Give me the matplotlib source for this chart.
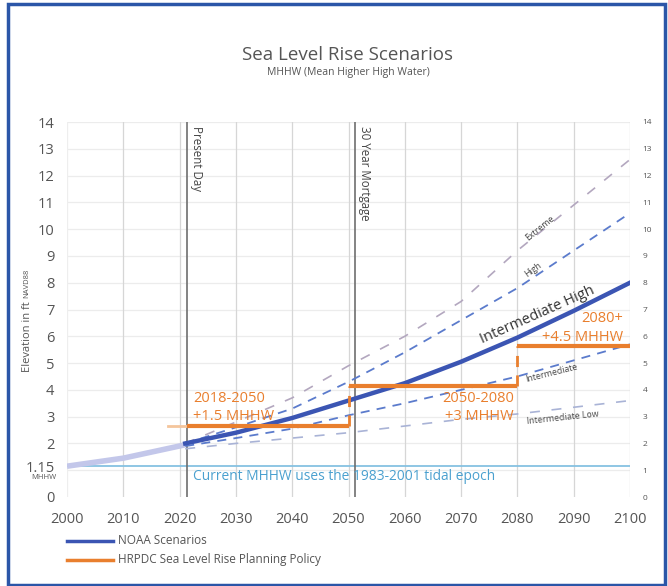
import matplotlib
matplotlib.use("Agg")
import matplotlib.pyplot as plt
from matplotlib.patches import Rectangle

plt.rcParams['font.family'] = ['Open Sans', 'DejaVu Sans']

# NOAA scenario curves (ft NAVD88)
years = [2021, 2030, 2040, 2050, 2060, 2070, 2080, 2090, 2100]
extreme = [2.0, 2.8, 3.7, 4.9, 6.0, 7.3, 9.2, 10.9, 12.6]
high = [2.0, 2.6, 3.3, 4.3, 5.4, 6.6, 7.8, 9.2, 10.6]
int_high = [2.0, 2.4, 2.95, 3.6, 4.25, 5.05, 5.95, 6.95, 8.0]
intermediate = [1.9, 2.2, 2.55, 3.05, 3.5, 4.0, 4.5, 5.1, 5.7]
int_low = [1.8, 2.0, 2.2, 2.4, 2.65, 2.9, 3.1, 3.35, 3.6]

hist_years = [2000, 2010, 2021]
hist_vals = [1.15, 1.45, 1.95]

mhhw = 1.15
present_day = 2021.3
mortgage = 2051.2

# HRPDC planning policy steps
policy_start = [2018, 2050, 2080]
policy_end = [2050, 2080, 2100]
policy_add = [1.5, 3.0, 4.5]

xticks = list(range(2000, 2101, 10))
left_ticks = [0, 1.15] + list(range(2, 15))
left_labels = ['0', '1.15'] + [str(v) for v in range(2, 15)]
right_ticks = list(range(0, 15))

W, H = 668, 586
fig = plt.figure(figsize=(W / 100, H / 100), dpi=100)
fig.patch.set_facecolor('white')
ax = fig.add_axes([67 / W, 1 - 497 / H, (630 - 67) / W, (497 - 122) / H])

# outer frame
fig.patches.append(Rectangle((8 / W, 1 - 585 / H), (665 - 8) / W, (585 - 4) / H,
                             transform=fig.transFigure, fill=False,
                             edgecolor='#2b56a8', linewidth=2.5))

ax.set_xlim(2000, 2100)
ax.set_ylim(0, 14)
for s in ax.spines.values():
    s.set_visible(False)

# grid
for v in range(1, 15):
    ax.axhline(v, color='#ececec', lw=0.9, zorder=0)
for x in xticks:
    ax.axvline(x, color='#d6d6d6' if x > 2000 else '#eeeeee', lw=0.9, zorder=0)

# current MHHW
ax.axhline(mhhw, color='#86c2e2', lw=1.3, zorder=1)
ax.text(2022.3, 0.75, 'Current MHHW uses the 1983-2001 tidal epoch',
        color='#4aa0cf', fontsize=9.9, va='center', ha='left')

# reference verticals
ax.axvline(present_day, color='#6e6e6e', lw=1.2, zorder=2)
ax.axvline(mortgage, color='#6e6e6e', lw=1.2, zorder=2)
ax.text(present_day + 0.5, 13.85, 'Present Day', rotation=-90, fontsize=8.3,
        color='#444444', ha='left', va='top')
ax.text(mortgage + 0.5, 13.85, '30 Year Mortgage', rotation=-90, fontsize=8.3,
        color='#444444', ha='left', va='top')

# history and scenarios
ax.plot(hist_years, hist_vals, color='#c3c7ea', lw=4, solid_capstyle='butt', zorder=3)
ax.plot(years, extreme, color='#b3a7bf', lw=1.2, dashes=(6, 7), zorder=3)
ax.plot(years, high, color='#5b7bcc', lw=1.3, dashes=(5, 4), zorder=3)
ax.plot(years, intermediate, color='#5b7bcc', lw=1.3, dashes=(5, 4), zorder=3)
ax.plot(years, int_low, color='#a9b3d6', lw=1.2, dashes=(6, 7), zorder=3)
ax.plot(years, int_high, color='#3b55b3', lw=3.2, zorder=4)

# policy steps
orange = '#e97f2e'
ax.plot([2018, present_day], [mhhw + policy_add[0]] * 2, color='#f4c59c', lw=2, zorder=5)
for i in range(len(policy_start)):
    x0 = max(policy_start[i], present_day)
    y = mhhw + policy_add[i]
    ax.plot([x0, policy_end[i]], [y, y], color=orange, lw=3, zorder=5,
            solid_capstyle='butt')
    if i > 0:
        ax.plot([policy_start[i]] * 2, [mhhw + policy_add[i - 1], y], color=orange,
                lw=2, dashes=(4, 3), zorder=5)

ax.text(2022.4, 3.69, '2018-2050', color=orange, fontsize=10.5, ha='left', va='center')
ax.text(2022.4, 3.0, '+1.5 MHHW', color=orange, fontsize=10.5, ha='left', va='center')
ax.text(2079.4, 3.69, '2050-2080', color=orange, fontsize=10.5, ha='right', va='center')
ax.text(2079.4, 3.0, '+3 MHHW', color=orange, fontsize=10.5, ha='right', va='center')
ax.text(2098.8, 6.68, '2080+', color=orange, fontsize=10.5, ha='right', va='center')
ax.text(2098.8, 5.97, '+4.5 MHHW', color=orange, fontsize=10.5, ha='right', va='center')

# scenario labels
ax.text(2084.0, 10.05, 'Extreme', fontsize=6.3, color='#444444', rotation=39,
        ha='center', va='center', rotation_mode='anchor')
ax.text(2082.8, 8.47, 'High', fontsize=6.3, color='#444444', rotation=36,
        ha='center', va='center', rotation_mode='anchor')
ax.text(2083.6, 6.8, 'Intermediate High', fontsize=10.5, color='#333333', rotation=24,
        ha='center', va='center', rotation_mode='anchor')
ax.text(2086.1, 4.63, 'Intermediate', fontsize=6.3, color='#444444', rotation=14,
        ha='center', va='center', rotation_mode='anchor')
ax.text(2088.0, 2.95, 'Intermediate Low', fontsize=6.3, color='#444444', rotation=6,
        ha='center', va='center', rotation_mode='anchor')

# ticks
ax.set_xticks(xticks)
ax.set_yticks(left_ticks)
ax.set_yticklabels(left_labels)
ax.tick_params(axis='x', length=0, pad=11, labelsize=10.5, labelcolor='#555555')
ax.tick_params(axis='y', length=0, pad=9, labelsize=10.5, labelcolor='#555555')
ax.text(-0.018, 0.71, 'MHHW', transform=ax.get_yaxis_transform(), fontsize=5.5,
        color='#555555', ha='right', va='center')

ax2 = ax.twinx()
ax2.set_ylim(0, 14)
ax2.set_yticks(right_ticks)
ax2.tick_params(axis='y', length=0, pad=9, labelsize=6, labelcolor='#555555')
for s in ax2.spines.values():
    s.set_visible(False)

# y label with small datum, placed end to end
ylab = fig.text(27 / W, 1 - 372 / H, 'Elevation in ft', rotation=90, rotation_mode='anchor',
                ha='left', va='center', fontsize=8, color='#555555')
fig.canvas.draw()
ext = ylab.get_window_extent()
fig.text(27 / W, (ext.y1 + 3) / H, 'NAVD88', rotation=90, rotation_mode='anchor',
         ha='left', va='center', fontsize=5.5, color='#555555')

# titles
fig.text(348 / W, 1 - 55 / H, 'Sea Level Rise Scenarios', ha='center', va='center',
         fontsize=13.5, color='#555555')
fig.text(348 / W, 1 - 73 / H, 'MHHW (Mean Higher High Water)', ha='center', va='center',
         fontsize=7.5, color='#555555')

# legend
for yy, col, lab in [(541, '#3b55b3', 'NOAA Scenarios'),
                     (560, orange, 'HRPDC Sea Level Rise Planning Policy')]:
    fig.add_artist(plt.Line2D([67 / W, 113 / W], [1 - yy / H] * 2, color=col, lw=2.5,
                              transform=fig.transFigure))
    fig.text(118 / W, 1 - yy / H, lab, ha='left', va='center', fontsize=8.5,
             color='#555555')

fig.savefig('out.png', dpi=100)
